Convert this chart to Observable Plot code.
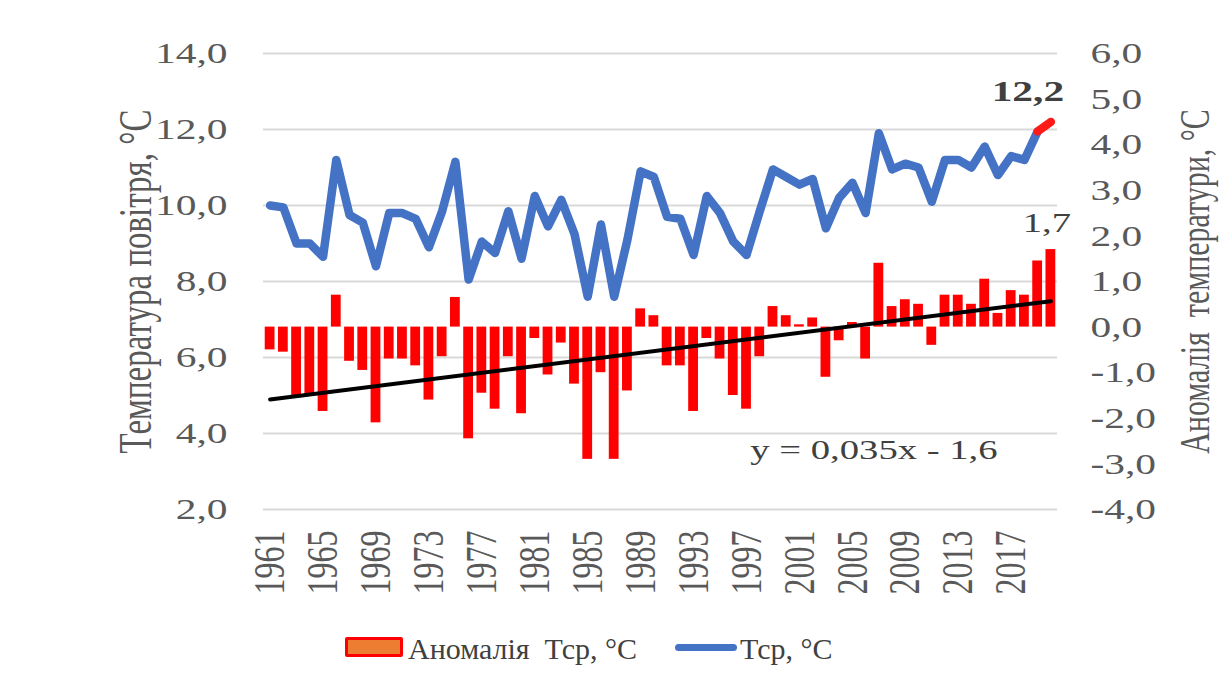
<!DOCTYPE html>
<html>
<head>
<meta charset="utf-8">
<script src="https://cdn.jsdelivr.net/npm/d3@7"></script>
<script src="https://cdn.jsdelivr.net/npm/@observablehq/plot@0.6"></script>
<style>
  html, body { margin: 0; padding: 0; background: #fff; }
  #chart { width: 1224px; }
  #legend { position: relative; width: 1224px; height: 78px; font-family: 'Liberation Serif', 'Times New Roman', serif; color: #404040; }
  #legend .sw-bar { position: absolute; left: 345px; top: 17px; width: 52px; height: 14px; background: #ED7D31; border: 3px solid #ff0000; border-radius: 2px; }
  #legend .sw-line { position: absolute; left: 675px; top: 24px; width: 62px; height: 7px; background: #4472C4; border-radius: 4px; }
  #legend .lab { position: absolute; top: 14px; font-size: 30px; line-height: 30px; white-space: pre; }
</style>
</head>
<body>
<div id="chart"></div>
<div id="legend"></div>
<script>
// ---------------- data ----------------
const years = [1961,1962,1963,1964,1965,1966,1967,1968,1969,1970,
               1971,1972,1973,1974,1975,1976,1977,1978,1979,1980,
               1981,1982,1983,1984,1985,1986,1987,1988,1989,1990,
               1991,1992,1993,1994,1995,1996,1997,1998,1999,2000,
               2001,2002,2003,2004,2005,2006,2007,2008,2009,2010,
               2011,2012,2013,2014,2015,2016,2017,2018,2019,2020];

// mean annual air temperature, °C (left axis)
const temps = [10.0, 9.95, 9.0, 9.0, 8.65, 11.2, 9.75, 9.55, 8.4, 9.8,
               9.8, 9.65, 8.9, 9.85, 11.15, 8.05, 9.05, 8.75, 9.85, 8.6,
               10.25, 9.45, 10.15, 9.25, 7.6, 9.5, 7.6, 9.1, 10.9, 10.75,
               9.7, 9.65, 8.7, 10.25, 9.8, 9.05, 8.7, 9.85, 10.95, 10.75,
               10.55, 10.7, 9.4, 10.2, 10.6, 9.8, 11.9, 10.95, 11.1, 11.0,
               10.1, 11.2, 11.2, 11.0, 11.55, 10.8, 11.3, 11.2, 11.95, 12.2];

// temperature anomaly, °C (right axis)
const anoms = [-0.5, -0.55, -1.55, -1.5, -1.85, 0.7, -0.75, -0.95, -2.1, -0.7,
               -0.7, -0.85, -1.6, -0.65, 0.65, -2.45, -1.45, -1.8, -0.65, -1.9,
               -0.25, -1.05, -0.35, -1.25, -2.9, -1.0, -2.9, -1.4, 0.4, 0.25,
               -0.85, -0.85, -1.85, -0.25, -0.7, -1.5, -1.8, -0.65, 0.45, 0.25,
               0.05, 0.2, -1.1, -0.3, 0.1, -0.7, 1.4, 0.45, 0.6, 0.5,
               -0.4, 0.7, 0.7, 0.5, 1.05, 0.3, 0.8, 0.7, 1.45, 1.7];

const xTickYears = [1961,1965,1969,1973,1977,1981,1985,1989,1993,1997,2001,2005,2009,2013,2017];
const leftTicks = [2, 4, 6, 8, 10, 12, 14];
const rightTicks = [-4, -3, -2, -1, 0, 1, 2, 3, 4, 5, 6];

const leftTitle = "Температура повітря, °C";
const rightTitle = "Аномалія  температури, °C";
const equationText = "y = 0,035x - 1,6";
const legendBarLabel = "Аномалія  Тср, °C";
const legendLineLabel = "Тср, °C";

// ---------------- chart ----------------
const SX = 1.38;              // horizontal text stretch seen in the reference
const BAR_HALF = 0.37;        // half bar width in years (styling)
const FONT = "'Liberation Serif', 'Times New Roman', serif";

const anomToTemp = d3.scaleLinear().domain([-4, 6]).range([2, 14]);
const fmt = v => ((Math.round(v * 10) / 10) + 0).toFixed(1).replace(".", ",");

const data = years.map((year, i) => ({year, temp: temps[i], anom: anoms[i]}));
const last = data[data.length - 1];

const plot = Plot.plot({
  width: 1224,
  height: 620,
  marginLeft: 263,
  marginRight: 167,
  marginTop: 53,
  marginBottom: 111,
  style: {fontFamily: FONT, background: "white", color: "#595959", overflow: "visible"},
  x: {domain: [1960.5, 2020.5]},
  y: {domain: [2, 14]},
  marks: [
    Plot.gridY(leftTicks, {stroke: "#d9d9d9", strokeOpacity: 1, strokeWidth: 2}),
    Plot.rectY(data, {
      x1: d => d.year - BAR_HALF,
      x2: d => d.year + BAR_HALF,
      y1: anomToTemp(0),
      y2: d => anomToTemp(d.anom),
      fill: "#ff0000"
    }),
    Plot.linearRegressionY(data, {x: "year", y: d => anomToTemp(d.anom), stroke: "#000", strokeWidth: 4, ci: 0}),
    Plot.line(data.slice(0, -1), {x: "year", y: "temp", stroke: "#4472C4", strokeWidth: 8.5, strokeLinejoin: "round", strokeLinecap: "round"}),
    Plot.line(data.slice(-2), {x: "year", y: "temp", stroke: "#ff1a1a", strokeWidth: 8.5, strokeLinecap: "round"}),
    Plot.axisY({
      anchor: "left", ticks: leftTicks, tickFormat: fmt, tickSize: 0, tickPadding: 36,
      fontSize: 30, label: null
    }),
    Plot.text([leftTitle], {
      text: d => d, frameAnchor: "left", dx: -145, rotate: -90, lineAnchor: "top",
      textAnchor: "middle", fontSize: 33, fill: "#595959"
    }),
    Plot.axisY({
      anchor: "right", ticks: rightTicks.map(v => anomToTemp(v)), tickFormat: v => fmt(anomToTemp.invert(v)),
      tickSize: 0, tickPadding: 33,
      fontSize: 30, label: rightTitle, labelAnchor: "center", labelOffset: 151, labelArrow: "none"
    }),
    Plot.axisX({
      ticks: xTickYears, tickFormat: d => String(d), tickRotate: -90, tickSize: 0, tickPadding: 21,
      fontSize: 32, label: null
    }),
    Plot.text([last], {x: "year", y: "temp", text: d => fmt(d.temp), dy: -31, dx: -23, fontSize: 30, fontWeight: "bold", fill: "#404040"}),
    Plot.text([last], {x: "year", y: d => anomToTemp(d.anom), text: d => fmt(d.anom), dy: -27, dx: -4, fontSize: 28, fill: "#404040"}),
    Plot.text([equationText], {text: d => d, frameAnchor: "bottom-right", dx: -60, dy: -51, textAnchor: "end", fontSize: 28, fill: "#404040"})
  ]
});

// stretch the chart texts horizontally, like the reference picture
plot.querySelectorAll("text").forEach(t => {
  const tr = t.getAttribute("transform") || "";
  const m = tr.match(/^\s*translate\(([^)]*)\)(.*)$/);
  if (m) {
    t.setAttribute("transform", `translate(${m[1]}) scale(${SX},1)${m[2]}`);
  } else if (!tr) {
    const x = +t.getAttribute("x") || 0, y = +t.getAttribute("y") || 0;
    t.setAttribute("x", 0); t.setAttribute("y", 0);
    t.setAttribute("transform", `translate(${x},${y}) scale(${SX},1)`);
  }
});

document.getElementById("chart").appendChild(plot);

// ---------------- legend ----------------
const legend = document.getElementById("legend");
legend.innerHTML = `
  <div class="sw-bar"></div>
  <span class="lab" style="left:408px">${legendBarLabel}</span>
  <div class="sw-line"></div>
  <span class="lab" style="left:740px">${legendLineLabel}</span>`;
</script>
</body>
</html>
